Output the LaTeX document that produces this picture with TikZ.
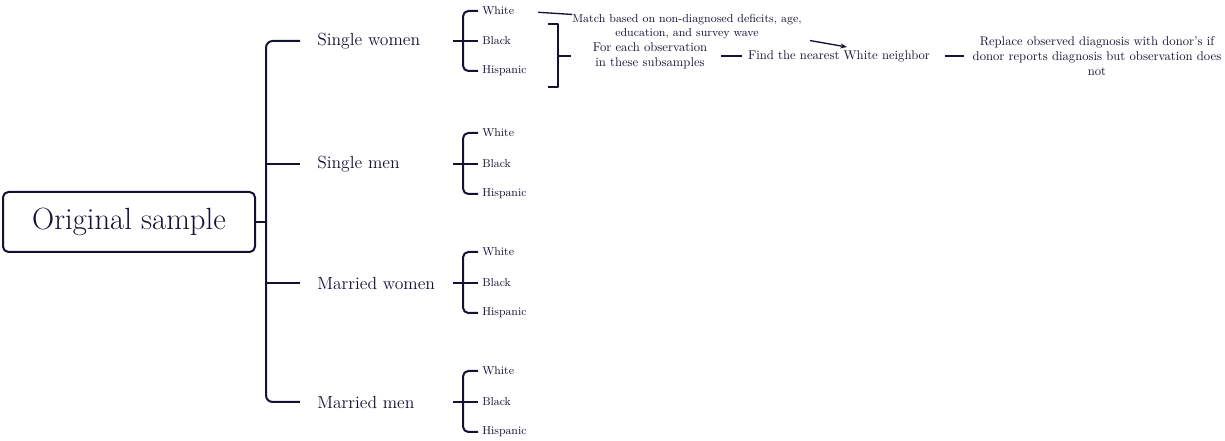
\documentclass[tikz,border=0pt]{standalone}
\usepackage{tikz}
\usetikzlibrary{positioning, arrows.meta, calc}
\definecolor{ink}{RGB}{18,18,52}

\begin{document}
\begin{tikzpicture}[x=0.75pt, y=-0.75pt, line join=round,
	link/.style={draw=ink, line width=1.5pt},
	slim/.style={draw=ink, line width=1pt},
	group/.style={text=ink, anchor=west, inner sep=0pt, font=\fontsize{13.2}{15}\selectfont},
	race/.style={text=ink, anchor=west, inner xsep=3pt, inner ysep=0pt, font=\fontsize{8.6}{10}\selectfont},
	note/.style={text=ink, inner sep=0pt, align=center, font=\fontsize{9.5}{11.5}\selectfont}]
	\useasboundingbox (0,0) rectangle (1225,441);
	
	\node[draw=ink, line width=1.5pt, rounded corners=4pt, minimum width=189pt, minimum height=45pt,
		text=ink, font=\fontsize{23}{27}\selectfont] (orig) at (129,222) {Original sample};
	
	\node[group] (sw) at (317,41) {Single women};
	\node[group] (sm) at (317,164) {Single men};
	\node[group] (mw) at (317,283) {Married women};
	\node[group] (mm) at (317,402) {Married men};
	
	\coordinate (trunk) at (266,222);
	\draw[link] (orig.east) -- (trunk);
	\draw[link, rounded corners=5pt] ($(sw.west)+(-17,0)$) -| (trunk) |- ($(mm.west)+(-17,0)$);
	\draw[link] (trunk |- sm.west) -- ($(sm.west)+(-17,0)$);
	\draw[link] (trunk |- mw.west) -- ($(mw.west)+(-17,0)$);
	
	\node[race] (sw1) at (478,11) {White};
	\node[race] (sw2) at (478,41) {Black};
	\node[race] (sw3) at (478,71) {Hispanic};
	\draw[link, rounded corners=4pt] (sw1.west) -| ($(sw2.west)+(-15,0)$) |- (sw3.west);
	\draw[link] ($(sw2.west)+(-25,0)$) -- (sw2.west);
	
	\node[race] (sm1) at (478,133) {White};
	\node[race] (sm2) at (478,164) {Black};
	\node[race] (sm3) at (478,194) {Hispanic};
	\draw[link, rounded corners=4pt] (sm1.west) -| ($(sm2.west)+(-15,0)$) |- (sm3.west);
	\draw[link] ($(sm2.west)+(-25,0)$) -- (sm2.west);
	
	\node[race] (mw1) at (478,252) {White};
	\node[race] (mw2) at (478,283) {Black};
	\node[race] (mw3) at (478,313) {Hispanic};
	\draw[link, rounded corners=4pt] (mw1.west) -| ($(mw2.west)+(-15,0)$) |- (mw3.west);
	\draw[link] ($(mw2.west)+(-25,0)$) -- (mw2.west);
	
	\node[race] (mm1) at (478,371) {White};
	\node[race] (mm2) at (478,402) {Black};
	\node[race] (mm3) at (478,432) {Hispanic};
	\draw[link, rounded corners=4pt] (mm1.west) -| ($(mm2.west)+(-15,0)$) |- (mm3.west);
	\draw[link] ($(mm2.west)+(-25,0)$) -- (mm2.west);
	
	\coordinate (rb) at (558,56);
	\draw[slim] ($(rb)+(-10,-32)$) -| (rb) |- ($(rb)+(-10,31)$);
	\node[note] (obs) at (650,56) {For each observation\\in these subsamples};
	\draw[slim, shorten >=16.5pt] (rb) -- (obs.west);
	
	\node[note, font=\fontsize{8.7}{10.5}\selectfont] (match) at (687,27) {Match based on non-diagnosed deficits, age,\\education, and survey wave};
	\draw[slim, shorten <=15pt] (sw1.east) -- (match.north west);
	
	\node[note] (find) at (839,56) {Find the nearest White neighbor};
	\draw[link, line width=1.8pt, shorten <=10.5pt, shorten >=4.5pt] (obs.east) -- (find.west);
	\draw[slim, -{Stealth[length=5pt]}] ($(match.south east)+(8,1)$) -- ($(find.north)+(8,-3)$);
	
	\node[note] (rep) at (1097,56) {Replace observed diagnosis with donor's if\\donor reports diagnosis but observation does\\not};
	\draw[slim, shorten <=11pt, shorten >=6.5pt] (find.east) -- (find.east -| rep.west);
\end{tikzpicture}
\end{document}
